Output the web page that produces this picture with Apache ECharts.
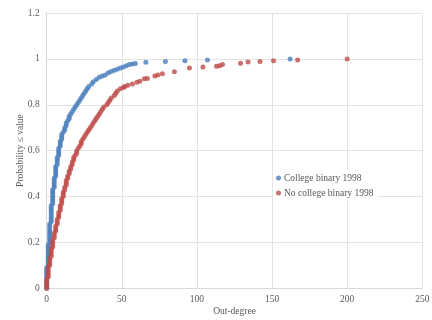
<!DOCTYPE html>
<html>
<head>
<meta charset="utf-8">
<script src="https://cdn.jsdelivr.net/npm/echarts@6/dist/echarts.min.js"></script>
<style>
html,body{margin:0;padding:0;background:#fff;}
#chart{width:432px;height:320px;}
</style>
</head>
<body>
<div id="chart"></div>
<script>
// Out-degree vs cumulative probability
const seriesNames = ["College binary 1998", "No college binary 1998"];
const collegeCdf = [
  [0,0],[0,.01],[0,.02],[0,.03],[0,.04],[0,.05],[0,.06],[0,.07],[0,.08],[0,.09],
  [1,.10],[1,.11],[1,.12],[1,.13],[1,.14],[1,.15],[1,.16],[1,.17],[1,.18],[1,.19],
  [2,.20],[2,.21],[2,.22],[2,.23],[2,.24],[2,.25],[2,.26],[2,.27],[2,.28],
  [3,.29],[3,.30],[3,.31],[3,.32],[3,.33],[3,.34],[3,.35],[3,.36],
  [4,.37],[4,.38],[4,.39],[4,.40],[4,.41],[4,.42],[4,.43],
  [5,.44],[5,.45],[5,.46],[5,.47],[5,.48],
  [6,.49],[6,.50],[6,.51],[6,.52],[6,.53],
  [7,.54],[7,.55],[7,.56],[7,.57],
  [8,.58],[8,.59],[8,.60],[8,.61],
  [9,.62],[9,.63],[9,.64],
  [10,.65],[10,.66],[10,.67],
  [11,.68],[12,.69],[12,.70],
  [13,.71],[13,.72],[14,.73],[15,.74],[15,.75],[16,.76],[17,.77],[18,.78],[19,.79],
  [20,.80],[21,.81],[22,.82],[23,.83],[24,.84],[25,.85],[26,.86],[27,.87],[28,.88],
  [30,.89],[31,.90],[33,.91],[35,.92],[37,.925],[39,.93],[41,.94],[43,.945],[45,.95],
  [47,.955],[49,.96],[51,.965],[53,.97],[55,.975],[57,.978],[59,.98],
  [66,.985],[79,.989],[92,.992],[107,.995],[162,1]
];
const noCollegeCdf = [
  [0,0],[0,.01],[0,.02],[0,.03],[0,.04],
  [1,.05],[1,.06],[1,.07],[1,.08],[1,.09],
  [2,.10],[2,.11],[2,.12],[2,.13],
  [3,.14],[3,.15],[3,.16],[3,.17],
  [4,.18],[4,.19],[4,.20],[4,.21],
  [5,.22],[5,.23],[5,.24],
  [6,.25],[6,.26],[6,.27],
  [7,.28],[7,.29],[7,.30],
  [8,.31],[8,.32],[8,.33],
  [9,.34],[9,.35],[9,.36],
  [10,.37],[10,.38],[10,.39],
  [11,.40],[11,.41],[11,.42],
  [12,.43],[12,.44],
  [13,.45],[13,.46],[13,.47],
  [14,.48],[14,.49],
  [15,.50],[15,.51],
  [16,.52],[16,.53],
  [17,.54],[17,.55],
  [18,.56],[18,.57],
  [19,.58],[20,.59],[20,.60],[21,.61],[22,.62],[23,.63],[23,.64],[24,.65],[25,.66],
  [26,.67],[27,.68],[28,.69],[29,.70],[30,.71],[31,.72],[32,.73],[33,.74],[34,.75],
  [35,.76],[36,.77],[37,.78],[38,.79],[40,.80],[41,.81],[42,.82],[43,.83],[45,.84],
  [46,.85],[47,.86],[49,.87],[51,.875],[52,.88],[54,.885],[57,.89],[60,.898],[62,.903],
  [65,.913],[67,.915],[72,.925],[74,.93],[77,.935],[85,.944],[95,.96],[104,.965],
  [113,.968],[115,.97],[117,.975],[129,.981],[134,.986],[142,.989],[151,.992],[167,.995],[200,1]
];
const xTicks = [0, 50, 100, 150, 200, 250];
const yTicks = [0, 0.2, 0.4, 0.6, 0.8, 1, 1.2];
const xAxisTitle = "Out-degree";
const yAxisTitle = "Probability ≤ value";

const FONT = "'Liberation Serif','DejaVu Serif',serif";
const TXT = "#595959";
const chart = echarts.init(document.getElementById('chart'), null, {renderer:'canvas'});
chart.setOption({
  animation:false,
  backgroundColor:'#fff',
  grid:{left:46.7, right:9.7, top:13, bottom:31.7, containLabel:false, outerBoundsMode:'none'},
  legend:{
    orient:'vertical', left:273, top:170,
    data:seriesNames,
    icon:'circle', itemWidth:5, itemHeight:5, itemGap:5,
    backgroundColor:'#fff', padding:[3,4,3,3],
    textStyle:{fontFamily:FONT, fontSize:9.5, color:TXT, padding:[0,0,0,-2]}
  },
  xAxis:{
    type:'value', min:xTicks[0], max:xTicks[xTicks.length-1], interval:50,
    name:xAxisTitle, nameLocation:'middle', nameGap:18, nameMoveOverlap:false,
    nameTextStyle:{fontFamily:FONT, fontSize:9.5, color:TXT},
    axisLine:{show:true, lineStyle:{color:'#d9d9d9', width:1}},
    axisTick:{show:false},
    axisLabel:{fontFamily:FONT, fontSize:9.5, color:TXT, margin:6},
    splitLine:{show:true, lineStyle:{color:'#e3e3e3', width:1}}
  },
  yAxis:{
    type:'value', min:yTicks[0], max:yTicks[yTicks.length-1], interval:0.2,
    name:yAxisTitle, nameLocation:'middle', nameGap:21, nameMoveOverlap:false,
    nameTextStyle:{fontFamily:FONT, fontSize:9.5, color:TXT},
    axisLine:{show:true, lineStyle:{color:'#d9d9d9', width:1}},
    axisTick:{show:false},
    axisLabel:{fontFamily:FONT, fontSize:9.5, color:TXT, margin:7,
      formatter:function(v){return String(Math.round(v*10)/10);}},
    splitLine:{show:true, lineStyle:{color:'#e3e3e3', width:1}}
  },
  series:[
    {name:seriesNames[0], type:'scatter', data:collegeCdf, symbol:'circle', symbolSize:5,
     itemStyle:{color:'#4a7ebb'}},
    {name:seriesNames[1], type:'scatter', data:noCollegeCdf, symbol:'circle', symbolSize:5,
     itemStyle:{color:'#be4b48'}}
  ]
});
</script>
</body>
</html>
